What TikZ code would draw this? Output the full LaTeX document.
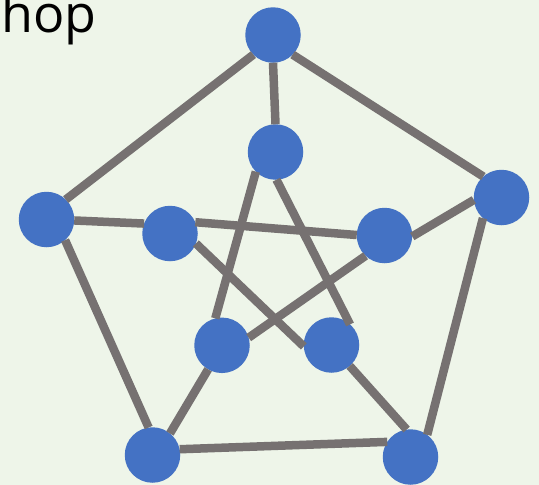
\documentclass[tikz,border=0pt]{standalone}
\usepackage{fontspec}
\setmainfont{Open Sans}
\definecolor{bg}{RGB}{238,245,233}
\definecolor{nodeblue}{RGB}{68,114,196}
\definecolor{edgegray}{RGB}{118,113,113}
\begin{document}
\begin{tikzpicture}[x=1pt,y=-1pt,
  vert/.style={circle,fill=nodeblue,minimum size=55.5pt,inner sep=0pt,outer sep=0pt},
  edge/.style={draw=edgegray,line width=8.5pt}]
\fill[bg] (0,0) rectangle (539,485);
\useasboundingbox (0,0) rectangle (539,485);
\node[anchor=base west,inner sep=0pt,font=\fontsize{52}{52}\selectfont] (hop) at (1,32) {hop};
% outer
\node[vert] (ot) at (273,35) {};
\node[vert] (or) at (501.5,197.5) {};
\node[vert] (obr) at (410.5,457) {};
\node[vert] (obl) at (152.5,455) {};
\node[vert] (ol) at (46.5,219.5) {};
% inner
\node[vert] (it) at (275.5,152) {};
\node[vert] (ir) at (384.5,235.5) {};
\node[vert] (ibr) at (331.5,345) {};
\node[vert] (ibl) at (222,345.3) {};
\node[vert] (il) at (170,233.5) {};
% outer cycle
\draw[edge] (ot.225) -- (ol.46);
\draw[edge] (ot.315) -- (or.131);
\draw[edge] (or.228) -- (obr.53);
\draw[edge] (obr.147) -- (obl.12);
\draw[edge] (obl.98) -- (ol.-48);
% spokes
\draw[edge] (ot.270) -- (it.90);
\draw[edge] (or.185) -- (ir.-2);
\draw[edge] (obr.98) -- (ibr.-49.5);
\draw[edge] (obl.51) -- (ibl.240);
\draw[edge] (ol.-2.5) -- (il.159);
% pentagram
\draw[edge] (it.225) -- (ibl.104);
\draw[edge] (it.272) -- (ibr.48);
\draw[edge] (il.24) -- (ir.179);
\draw[edge] (il.-21) -- (ibr.183);
\draw[edge] (ir.227) -- (ibl.16.5);
\end{tikzpicture}
\end{document}
